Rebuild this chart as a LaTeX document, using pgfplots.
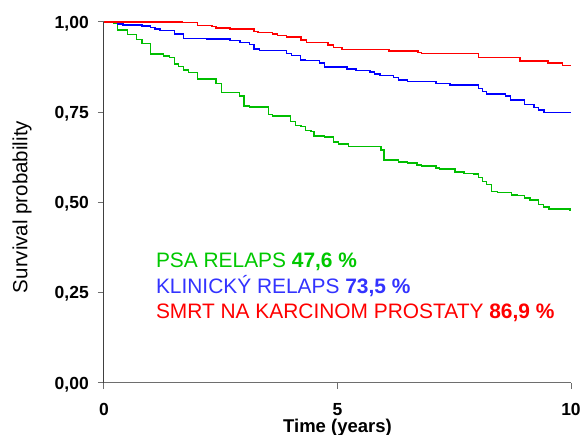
\documentclass[border=0pt]{standalone}
\usepackage{fontspec}
\setmainfont{Liberation Sans}
\usepackage{pgfplots}
\pgfplotsset{compat=1.18}
\definecolor{psa}{RGB}{0,190,0}
\definecolor{psatxt}{RGB}{0,200,0}
\definecolor{klin}{RGB}{0,0,255}
\definecolor{klintxt}{RGB}{51,51,255}
\definecolor{smrt}{RGB}{255,0,0}
\definecolor{axdark}{RGB}{64,64,64}
\definecolor{axgray}{RGB}{110,110,110}

\begin{document}
\begin{tikzpicture}
\useasboundingbox (-104pt,-52pt) rectangle (478pt,383pt);
\begin{axis}[
  at={(0pt,0pt)}, anchor=south west,
  scale only axis, width=467pt, height=361pt,
  xmin=0, xmax=10, ymin=0, ymax=1,
  axis x line*=bottom, axis y line*=left,
  x axis line style={-, draw=axgray, line width=1pt},
  y axis line style={-, draw=axdark, line width=1pt},
  xtick={0,5,10}, xticklabels={0,5,10},
  ytick={0,0.25,0.5,0.75,1}, yticklabels={{0,00},{0,25},{0,50},{0,75},{1,00}},
  tick align=outside, major tick length=6pt,
  tick style={draw=axgray, line width=1pt},
  xticklabel style={font=\fontsize{17.5}{20}\selectfont\bfseries, anchor=base, inner sep=0pt, yshift=-26.5pt},
  yticklabel style={font=\fontsize{17.5}{20}\selectfont\bfseries, anchor=base east, inner sep=0pt, xshift=-9pt, yshift=-6.2pt},
  xlabel={Time (years)},
  xlabel style={font=\fontsize{18.5}{22}\selectfont\bfseries, at={(axis description cs:0.5,0)}, anchor=base, inner sep=0pt, yshift=-50pt},
  ylabel={Survival probability},
  ylabel style={font=\fontsize{20.5}{24}\selectfont, at={(axis description cs:-0.1756,0.4875)}, anchor=center, inner sep=0pt},
  clip=false,
  every axis plot/.append style={const plot mark left, no markers, line width=1.4pt},
]
% PSA relaps
\addplot[psa] coordinates {
 (0,1) (0.20,0.996) (0.29,0.978) (0.50,0.966) (0.70,0.952) (0.81,0.941)
 (1.00,0.911) (1.28,0.906) (1.40,0.901) (1.51,0.884) (1.60,0.877) (1.70,0.867)
 (1.81,0.860) (2.00,0.842) (2.40,0.830) (2.51,0.804) (2.90,0.795) (3.00,0.767)
 (3.11,0.765) (3.52,0.744) (3.61,0.740) (4.00,0.724) (4.10,0.714) (4.22,0.710)
 (4.32,0.699) (4.43,0.696) (4.50,0.684) (4.72,0.681) (4.91,0.668) (5.02,0.662)
 (5.23,0.655) (5.93,0.645) (6.00,0.618) (6.31,0.612) (6.50,0.609) (6.70,0.604)
 (6.80,0.601) (7.11,0.596) (7.19,0.593) (7.52,0.585) (7.71,0.581) (7.91,0.579)
 (8.02,0.569) (8.10,0.558) (8.19,0.550) (8.30,0.530) (8.42,0.528) (8.72,0.521)
 (8.84,0.519) (9.01,0.512) (9.12,0.507) (9.31,0.495) (9.41,0.488) (9.53,0.482)
 (9.98,0.477) (10,0.477)
};
% klinicky relaps
\addplot[klin] coordinates {
 (0,1) (0.29,0.994) (0.41,0.992) (0.81,0.989) (1.00,0.984) (1.09,0.981)
 (1.20,0.977) (1.51,0.967) (1.70,0.955) (2.20,0.953) (2.70,0.948) (2.91,0.944)
 (3.11,0.938) (3.21,0.925) (3.33,0.921) (3.91,0.913) (4.02,0.907) (4.21,0.895)
 (4.32,0.893) (4.61,0.886) (4.72,0.875) (5.20,0.870) (5.40,0.866) (5.70,0.861)
 (5.79,0.856) (5.91,0.852) (6.20,0.847) (6.31,0.839) (6.50,0.835) (7.11,0.830)
 (7.41,0.825) (8.02,0.816) (8.10,0.807) (8.19,0.801) (8.60,0.795) (8.71,0.784)
 (9.01,0.772) (9.21,0.763) (9.31,0.756) (9.42,0.749) (10,0.749)
};
% smrt na karcinom prostaty
\addplot[smrt] coordinates {
 (0,1) (1.68,0.998) (2.00,0.991) (2.31,0.988) (2.40,0.983) (2.70,0.981)
 (3.21,0.973) (3.30,0.971) (3.61,0.967) (3.71,0.963) (3.91,0.958) (4.22,0.950)
 (4.33,0.943) (4.80,0.936) (4.91,0.929) (5.10,0.924) (6.10,0.920) (6.72,0.916)
 (6.80,0.913) (8.02,0.902) (8.91,0.892) (9.51,0.886) (9.82,0.879) (10,0.879)
};
\begin{scope}[every node/.style={anchor=base west, inner sep=0pt, font=\fontsize{20.9}{24}\selectfont}]
\node[text=psatxt] at (axis cs:1.11,0.319) {PSA RELAPS \textbf{47,6 \%}};
\node[text=klintxt] at (axis cs:1.11,0.249) {KLINICKÝ RELAPS \textbf{73,5 \%}};
\node[text=smrt] at (axis cs:1.11,0.180) {SMRT NA KARCINOM PROSTATY \textbf{86,9 \%}};
\end{scope}
\end{axis}
\end{tikzpicture}
\end{document}
